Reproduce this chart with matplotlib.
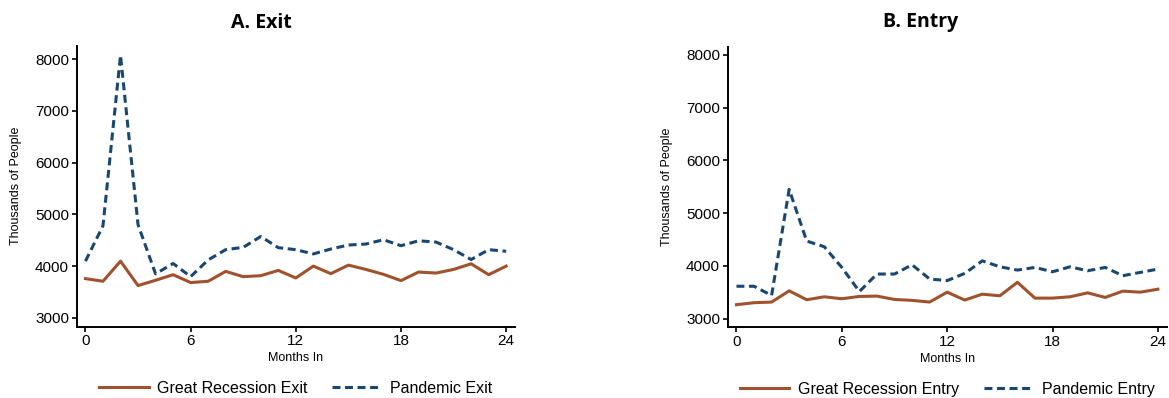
import matplotlib
matplotlib.use("Agg")
import matplotlib.pyplot as plt

plt.rcParams['font.family'] = ['Liberation Sans', 'DejaVu Sans']

# data (thousands of people), months 0..24
months = list(range(25))

gr_exit = [3758, 3707, 4096, 3624, 3726, 3834, 3682, 3707, 3898, 3796, 3815, 3917, 3771,
           4000, 3854, 4019, 3936, 3841, 3720, 3885, 3866, 3936, 4045, 3834, 4000]
pan_exit = [4096, 4780, 8077, 4800, 3850, 4051, 3796, 4120, 4318, 4363, 4573, 4357, 4318,
            4236, 4331, 4408, 4427, 4510, 4395, 4490, 4465, 4318, 4127, 4318, 4287]

gr_entry = [3262, 3300, 3312, 3525, 3356, 3412, 3375, 3419, 3425, 3362, 3344, 3312, 3500,
            3350, 3462, 3431, 3687, 3387, 3387, 3412, 3487, 3400, 3519, 3500, 3556]
pan_entry = [3612, 3612, 3437, 5450, 4469, 4362, 3969, 3512, 3844, 3844, 4019, 3750, 3719,
             3856, 4094, 3981, 3919, 3969, 3887, 3981, 3906, 3969, 3812, 3875, 3937]

xticks = [0, 6, 12, 18, 24]
yticks = [3000, 4000, 5000, 6000, 7000, 8000]

ORANGE = '#A0522D'
NAVY = '#1A476F'

fig = plt.figure(figsize=(11.69, 3.98), dpi=100)
ax1 = fig.add_axes([0.0656, 0.1791, 0.3749, 0.7061])
ax2 = fig.add_axes([0.6225, 0.1776, 0.3755, 0.7051])

panels = [
    (ax1, gr_exit, pan_exit, 'Great Recession Exit', 'Pandemic Exit', 'A. Exit', 261, (2828, 8263)),
    (ax2, gr_entry, pan_entry, 'Great Recession Entry', 'Pandemic Entry', 'B. Entry', 921, (2833, 8157)),
]

for ax, gr, pan, lab_gr, lab_pan, title, tx, ylim in panels:
    ax.plot(months, gr, color=ORANGE, lw=2.2, label=lab_gr)
    ax.plot(months, pan, color=NAVY, lw=2.2, linestyle=(0, (2.6, 1.5)), label=lab_pan)

    ax.set_xlim(-0.5, 24.5)
    ax.set_ylim(*ylim)
    ax.set_xticks(xticks)
    ax.set_yticks(yticks)
    ax.tick_params(axis='both', labelsize=11, length=3.5, width=1.2, direction='out', pad=2)

    for s in ['top', 'right']:
        ax.spines[s].set_visible(False)
    for s in ['left', 'bottom']:
        ax.spines[s].set_linewidth(1.4)

    ax.set_ylabel('Thousands of People', fontsize=9)
    ax.yaxis.set_label_coords(-0.125, 0.5)
    ax.set_xlabel('Months In', fontsize=9)
    ax.xaxis.set_label_coords(0.5, -0.09)

    ax.legend(loc='center', bbox_to_anchor=(0.5, -0.22), ncol=2, frameon=False,
              fontsize=11.5, handlelength=3.1, columnspacing=1.55, handletextpad=0.52)

    fig.text(tx / 1169, 1 - 22.5 / 398, title, ha='center', va='center',
             fontsize=14, fontweight='bold', family=['Open Sans', 'DejaVu Sans'])

fig.savefig('out.png', dpi=100)
